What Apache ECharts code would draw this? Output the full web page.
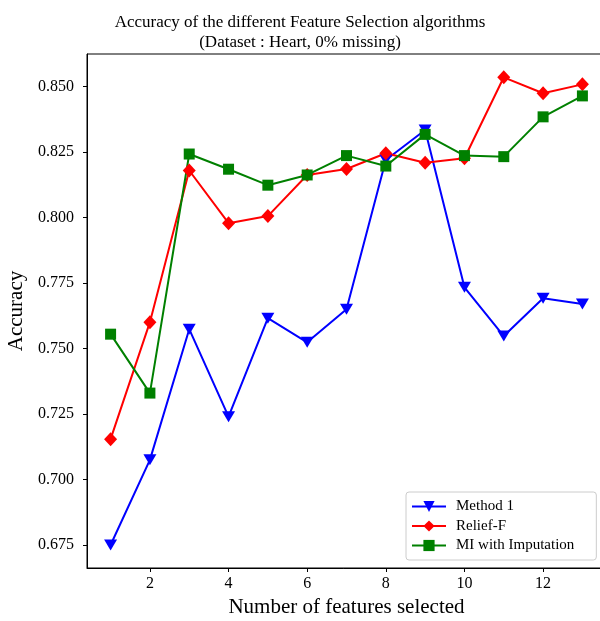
<!DOCTYPE html>
<html><head><meta charset="utf-8">
<script src="https://cdn.jsdelivr.net/npm/echarts@6/dist/echarts.min.js"></script>
<style>html,body{margin:0;padding:0;background:#fff}#c{width:600px;height:621px}</style>
</head><body><div id="c"></div>
<script>
const features = [1,2,3,4,5,6,7,8,9,10,11,12,13];
const method1 = [0.675,0.7075,0.7574,0.724,0.7616,0.7524,0.765,0.822,0.8335,0.7734,0.7548,0.7692,0.767];
const reliefF = [0.7154,0.7601,0.818,0.7979,0.8006,0.8163,0.8186,0.8246,0.821,0.8227,0.8536,0.8475,0.8509];
const miImput = [0.7555,0.733,0.8243,0.8185,0.8124,0.8163,0.8237,0.8197,0.8318,0.8237,0.8233,0.8385,0.8465];
const xTicks = [2,4,6,8,10,12];
const yTicks = [0.675,0.700,0.725,0.750,0.775,0.800,0.825,0.850];
const seriesNames = ['Method 1','Relief-F','MI with Imputation'];
const titleText = 'Accuracy of the different Feature Selection algorithms\n(Dataset : Heart, 0% missing)';

const FONT = 'Liberation Serif';
const pair = arr => features.map((f,i)=>[f,arr[i]]);
const chart = echarts.init(document.getElementById('c'));
chart.setOption({
  animation:false,
  backgroundColor:'#fff',
  title:{text:titleText,left:'center',top:8,
    textStyle:{fontFamily:FONT,fontSize:17,fontWeight:'normal',color:'#000',lineHeight:20}},
  legend:{orient:'vertical',left:406,top:492,
    backgroundColor:'rgba(255,255,255,0.8)',borderColor:'#cccccc',borderWidth:1,borderRadius:3,
    padding:[7,22,7,5],itemGap:4.5,itemWidth:34,itemHeight:14,
    textStyle:{fontFamily:FONT,fontSize:15,color:'#000',padding:[0,0,0,5]},
    data:seriesNames},
  grid:{left:87,top:54,width:519,height:514,show:true,borderColor:'#000',borderWidth:1,
    containLabel:false,outerBoundsMode:'none'},
  xAxis:{type:'value',min:0.4,max:13.6,
    name:'Number of features selected',nameLocation:'middle',nameGap:22,
    nameTextStyle:{fontFamily:FONT,fontSize:21,color:'#000'},
    axisLine:{show:true,lineStyle:{color:'#000',width:1}},
    axisTick:{show:true,inside:false,length:4,lineStyle:{color:'#000'},customValues:xTicks},
    axisLabel:{fontFamily:FONT,fontSize:16,color:'#000',margin:8,customValues:xTicks},
    splitLine:{show:false}},
  yAxis:{type:'value',min:0.6662,max:0.8625,
    name:'Accuracy',nameLocation:'middle',nameGap:56,nameRotate:90,
    nameTextStyle:{fontFamily:FONT,fontSize:21,color:'#000'},
    axisLine:{show:true,lineStyle:{color:'#000',width:1}},
    axisTick:{show:true,inside:false,length:4,lineStyle:{color:'#000'},customValues:yTicks},
    axisLabel:{fontFamily:FONT,fontSize:16,color:'#000',margin:13,customValues:yTicks,
      formatter:v=>v.toFixed(3)},
    splitLine:{show:false}},
  series:[
    {name:seriesNames[0],type:'line',data:pair(method1),color:'#0000ff',
      symbol:'triangle',symbolRotate:180,symbolSize:[13,11],
      lineStyle:{width:2,color:'#0000ff'},itemStyle:{color:'#0000ff'}},
    {name:seriesNames[1],type:'line',data:pair(reliefF),color:'#ff0000',
      symbol:'diamond',symbolSize:[13,14],
      lineStyle:{width:2,color:'#ff0000'},itemStyle:{color:'#ff0000'}},
    {name:seriesNames[2],type:'line',data:pair(miImput),color:'#008000',
      symbol:'rect',symbolSize:11,
      lineStyle:{width:2,color:'#008000'},itemStyle:{color:'#008000'}}
  ]
});
</script></body></html>
